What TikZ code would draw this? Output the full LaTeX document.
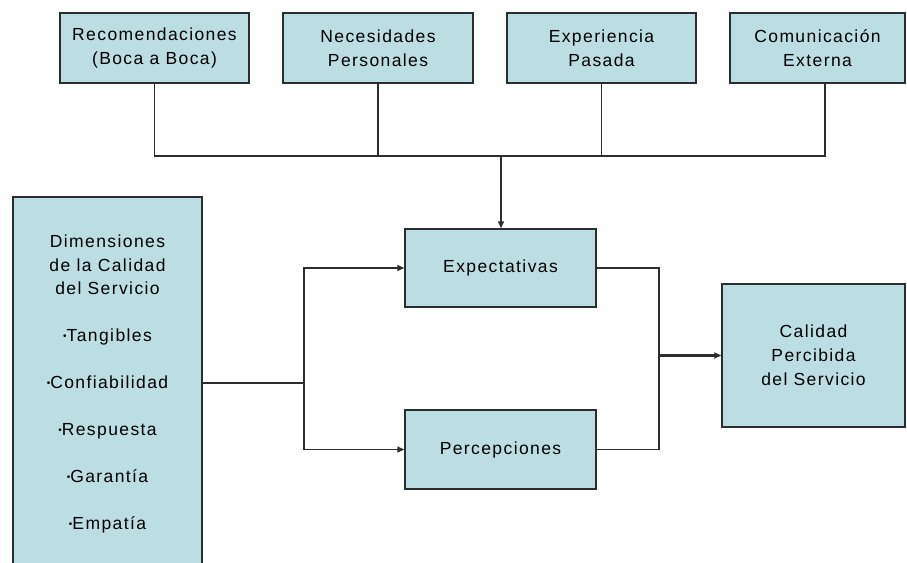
\documentclass[tikz,border=0pt]{standalone}
\usepackage{fontspec}
\setmainfont{Liberation Sans}[LetterSpace=8]
\usetikzlibrary{arrows.meta}
\definecolor{boxfill}{RGB}{187,222,226}
\definecolor{edge}{RGB}{45,45,45}
\newcommand\mybul{\raisebox{2.2pt}{\fontsize{10}{10}\selectfont •}}
\tikzset{
  boxnode/.style={draw=edge, line width=1.4pt, fill=boxfill, rectangle, inner sep=0pt,
    align=center, font=\fontsize{17.5}{24}\selectfont},
  conn/.style={draw=edge, line width=1.4pt},
  arr/.style={conn, -{Triangle[length=7pt,width=6pt]}},
  bigarr/.style={draw=edge, line width=2.2pt, -{Triangle[length=7pt,width=6pt]}},
  txt/.style={align=center, inner sep=0pt, font=\fontsize{17.5}{23.5}\selectfont}
}
\begin{document}
\begin{tikzpicture}[x=1pt,y=-1pt]
\useasboundingbox (0,0) rectangle (907,562);
\fill[white] (0,0) rectangle (907,562);
% top boxes
\node[boxnode, minimum width=189pt, minimum height=70pt] (b1) at (154.5,48) {Recomendaciones\\(Boca a Boca)};
\node[boxnode, minimum width=190pt, minimum height=70pt] (b2) at (378,48) {Necesidades\\Personales};
\node[boxnode, minimum width=189pt, minimum height=70pt] (b3) at (601.5,48) {Experiencia\\Pasada};
\node[boxnode, minimum width=175pt, minimum height=70pt] (b4) at (817.5,48) {Comunicación\\Externa};
% middle boxes
\node[boxnode, minimum width=191pt, minimum height=78pt] (ex) at (500.5,268) {Expectativas};
\node[boxnode, minimum width=191pt, minimum height=79pt] (pe) at (500.5,449.5) {Percepciones};
\node[boxnode, minimum width=183pt, minimum height=143pt] (ca) at (813.5,355.5) {Calidad\\Percibida\\del Servicio};
% dimensions box
\node[boxnode, minimum width=189pt, minimum height=383pt] (dm) at (107.5,388.5) {};
\node[txt] (dmt) at (107.5,384) {Dimensiones\\de la Calidad\\del Servicio\\[23.5pt]\mybul Tangibles\\[23.5pt]\mybul Confiabilidad\\[23.5pt]\mybul Respuesta\\[23.5pt]\mybul Garantía\\[23.5pt]\mybul Empatía};
% coordinates
\coordinate (bus) at (501,156);
\coordinate (jl) at (304,383);
\coordinate (jr) at (659,355.5);
\coordinate (b4s) at ([xshift=7.5pt]b4.south);
% top connectors
\draw[conn] (b1.south) -- (b1.south |- bus) -- (b4s |- bus) -- (b4s);
\draw[conn] (b2.south) -- (b2.south |- bus);
\draw[conn] (b3.south) -- (b3.south |- bus);
\draw[arr] (bus) -- (bus |- ex.north);
% left connectors
\draw[conn] (dm.east |- jl) -- (jl);
\draw[arr] (jl) |- (ex.west);
\draw[arr] (jl) |- (pe.west);
% right connectors
\draw[conn] (ex.east) -| (jr) |- (pe.east);
\draw[bigarr] (jr) -- (ca.west);
\end{tikzpicture}
\end{document}
